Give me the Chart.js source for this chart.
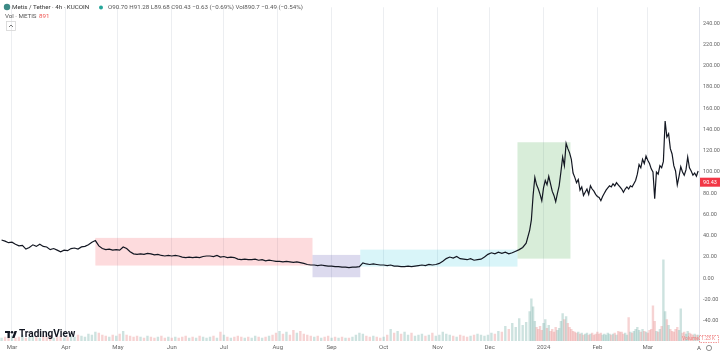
<!DOCTYPE html>
<html>
<head>
<meta charset="utf-8">
<script src="https://cdn.jsdelivr.net/npm/chart.js@4.4.0/dist/chart.umd.min.js"></script>
<style>
html, body { margin: 0; padding: 0; background: #fff; }
canvas { display: block; }
</style>
</head>
<body>
<canvas id="chart" width="720" height="354"></canvas>
<script>
// time axis in days, day 0 = 1 Mar 2023
const monthDays = [0, 31, 61, 92, 122, 153, 184, 214, 245, 275, 306, 337, 366];
const monthLabels = ['Mar', 'Apr', 'May', 'Jun', 'Jul', 'Aug', 'Sep', 'Oct', 'Nov', 'Dec', '2024', 'Feb', 'Mar'];
const priceTicks = [-40, -20, 0, 20, 40, 60, 80, 100, 120, 140, 160, 180, 200, 220, 240];

// first stretch: one reading every 2 days from day -6
const start1 = -6, step1 = 2;
const prices1 = [
    36, 35, 33.5, 34, 32, 30.5, 31, 27.5, 29, 31.5,
    30, 32, 30, 29.5, 27, 28, 26.5, 25, 26.5, 26,
    28, 28.5, 27.5, 29.5, 30, 31.5, 34, 35.5, 30.5, 28,
    27, 27.5, 26.5, 27, 26.5, 29.5, 28, 25, 23, 22.5,
    23, 22.5, 23.5, 23, 22, 22.5, 21.5, 21, 21.5, 21,
    21.5, 21, 20, 19.5, 20, 19.5, 20, 19.5, 20.5, 21,
    21, 20.5, 21.5, 20, 20.5, 19.5, 20, 19.5, 18, 17.5,
    18, 17.5, 17.5, 18, 17, 17.5, 16.5, 17, 16.5, 16,
    16, 15.5, 16, 15.5, 15, 15.5, 14.8, 14, 13, 12.5,
    12.5, 12, 12.5, 12, 11.5, 11.5, 11, 11, 10.5, 10.5,
    10, 10.5, 10.5, 11, 14.5, 13.5, 13, 13.5, 13, 12.5,
    12.5, 12, 12.5, 11.5, 11.5, 11, 11, 11.5, 11, 11.5,
    12, 12.5, 12, 13, 12.5, 13, 14, 16, 18.5, 20,
    19, 20.5, 18.5, 18, 17.5, 18.5, 17, 17.5, 18, 20,
    22.5, 24, 23, 24.5, 23.5, 24.5, 23, 24, 25.5, 27,
    29, 33, 45
];
const volume1 = [
    3, 4, 3, 5, 3, 4, 6, 3, 4, 5,
    4, 3, 5, 4, 6, 3, 4, 5, 3, 4,
    5, 4, 6, 5, 4, 7, 6, 9, 8, 6,
    5, 4, 6, 5, 7, 10, 6, 5, 4, 5,
    4, 3, 5, 4, 3, 4, 5, 3, 4, 3,
    4, 3, 4, 5, 3, 4, 3, 5, 4, 3,
    4, 5, 3, 9, 6, 4, 3, 4, 5, 4,
    3, 4, 3, 5, 4, 3, 4, 5, 6, 8,
    10, 7, 9, 6, 11, 8, 10, 7, 6, 5,
    4, 5, 3, 4, 5, 3, 4, 3, 4, 3,
    3, 4, 6, 8, 7, 5, 4, 5, 4, 3,
    4, 6, 12, 8, 10, 7, 9, 6, 8, 5,
    6, 7, 5, 6, 8, 5, 6, 9, 7, 6,
    5, 4, 6, 5, 4, 5, 6, 7, 6, 5,
    6, 8, 7, 10, 9, 15, 12, 18, 14, 23,
    16, 19, 30
];

// second stretch: daily readings from day 299
const start2 = 299, step2 = 1;
const prices2 = [
    55, 78, 95, 88, 84, 79, 73, 85, 92, 88,
    96, 89, 82, 78, 72, 80, 87, 100, 114, 106,
    127, 122, 118, 112, 99, 95, 90, 93, 83, 86,
    78, 81, 84, 79, 87, 84, 82, 79, 77, 76,
    73, 77, 80, 83, 85, 87, 86, 89, 87, 90,
    88, 86, 84, 81, 84, 86, 84, 87, 86, 89,
    92, 98, 107, 104, 112, 108, 115, 111, 108, 103,
    100, 75, 100, 98, 106, 104, 110, 148, 133, 136,
    122, 117, 106, 101, 88, 96, 105, 100, 97, 102,
    114, 104, 101, 97, 99, 96, 101
];
const volume2 = [
    43, 35, 20, 14, 12, 15, 11, 18, 22, 13,
    16, 10, 12, 9, 14, 11, 13, 20, 28, 22,
    25, 18, 14, 12, 10, 9, 8, 9, 7, 8,
    6, 7, 8, 6, 7, 8, 6, 7, 9, 7,
    8, 6, 7, 6, 8, 7, 6, 7, 8, 6,
    10, 9, 9, 7, 8, 6, 24, 9, 8, 10,
    12, 14, 11, 9, 12, 10, 9, 8, 11, 12,
    36, 20, 10, 9, 12, 15, 83, 30, 22, 16,
    12, 10, 9, 12, 14, 11, 33, 8, 9, 7,
    10, 8, 7, 6, 7, 6, 6
];

// shaded zones: [fromDay, toDay, low, high]
const zones = [
    [48, 173, 12, 38],
    [173, 200.5, 1, 22],
    [200.5, 291, 11, 27],
    [291, 321.5, 18.5, 128]
];
const zoneColors = ['rgba(242,54,69,0.18)', 'rgba(80,70,170,0.2)', 'rgba(0,188,212,0.15)', 'rgba(76,175,80,0.22)'];
const lastClose = 90.43;

const days = prices1.map((_, i) => start1 + i * step1).concat(prices2.map((_, i) => start2 + i * step2));
const prices = prices1.concat(prices2);
const volumes = volume1.concat(volume2);

const pricePoints = days.map((d, i) => ({ x: d, y: prices[i] }));
const volumePoints = days.map((d, i) => ({ x: d, y: volumes[i] }));
const volumeColors = prices.map((p, i) => (i > 0 && p < prices[i - 1]) ? 'rgba(225,110,110,0.3)' : 'rgba(90,160,150,0.3)');

const FONT = 'Roboto, "Noto Sans", sans-serif';

const overlay = {
    id: 'overlay',
    beforeDatasetsDraw(chart) {
        const { ctx, scales: { x, y } } = chart;
        ctx.save();
        zones.forEach((z, i) => {
            const x0 = x.getPixelForValue(z[0]), x1 = x.getPixelForValue(z[1]);
            const y0 = y.getPixelForValue(z[3]), y1 = y.getPixelForValue(z[2]);
            ctx.fillStyle = zoneColors[i];
            ctx.fillRect(x0, y0, x1 - x0, y1 - y0);
        });
        ctx.restore();
    },
    afterDraw(chart) {
        const { ctx, scales: { y }, chartArea } = chart;
        ctx.save();
        ctx.textBaseline = 'middle';

        // legend header
        ctx.fillStyle = '#3d8a86';
        ctx.beginPath();
        ctx.arc(7, 7, 3.2, 0, Math.PI * 2);
        ctx.fill();
        ctx.font = '6.2px ' + FONT;
        ctx.fillStyle = '#333';
        ctx.fillText('Metis / Tether · 4h · KUCOIN', 12, 7.5);
        ctx.fillStyle = '#26a69a';
        ctx.beginPath();
        ctx.arc(101, 7.5, 2, 0, Math.PI * 2);
        ctx.fill();
        ctx.fillStyle = '#555';
        ctx.fillText('O90.70 H91.28 L89.68 C90.43 −0.63 (−0.69%) Vol890.7 −0.49 (−0.54%)', 108, 7.5);
        ctx.fillText('Vol · METIS', 5, 16.5);
        ctx.fillStyle = '#ef5350';
        ctx.fillText('891', 39, 16.5);

        // collapse button
        ctx.strokeStyle = '#d5d5d5';
        ctx.lineWidth = 0.8;
        ctx.strokeRect(6.5, 21.5, 9, 9);
        ctx.strokeStyle = '#555';
        ctx.beginPath();
        ctx.moveTo(9, 27);
        ctx.lineTo(11, 25);
        ctx.lineTo(13, 27);
        ctx.stroke();

        // TradingView watermark
        ctx.fillStyle = '#131722';
        ctx.fillRect(5, 331, 5, 2);
        ctx.fillRect(7.5, 331, 2.3, 7);
        ctx.beginPath();
        ctx.arc(12, 332.2, 1.3, 0, Math.PI * 2);
        ctx.fill();
        ctx.beginPath();
        ctx.moveTo(14.5, 331);
        ctx.lineTo(17, 331);
        ctx.lineTo(14.5, 338);
        ctx.lineTo(12, 338);
        ctx.closePath();
        ctx.fill();
        ctx.font = 'bold 10px ' + FONT;
        ctx.fillText('TradingView', 19, 334.5);

        // last price tag
        const py = y.getPixelForValue(lastClose);
        ctx.fillStyle = '#f23645';
        ctx.fillRect(chartArea.right + 1, py - 4.5, 20, 9);
        ctx.fillStyle = '#fff';
        ctx.font = '5.5px ' + FONT;
        ctx.textAlign = 'center';
        ctx.fillText(lastClose.toFixed(2), chartArea.right + 11, py);

        // volume legend bottom right
        ctx.textAlign = 'left';
        ctx.fillStyle = '#f08080';
        ctx.font = '5px ' + FONT;
        ctx.fillText('Volume', 682, 339);
        ctx.setLineDash([1.5, 1]);
        ctx.strokeStyle = '#f08080';
        ctx.strokeRect(699.5, 335.5, 19, 7);
        ctx.setLineDash([]);
        ctx.fillText('1.23 K', 701, 339);

        // corner controls
        ctx.fillStyle = '#555';
        ctx.font = '6px ' + FONT;
        ctx.fillText('A', 697, 348);
        ctx.strokeStyle = '#777';
        ctx.beginPath();
        ctx.arc(709, 348, 2.6, 0, Math.PI * 2);
        ctx.stroke();
        ctx.restore();
    }
};

new Chart(document.getElementById('chart'), {
    data: {
        datasets: [
            {
                type: 'line',
                data: pricePoints,
                yAxisID: 'y',
                borderColor: '#131722',
                borderWidth: 1.2,
                pointRadius: 0,
                tension: 0,
                order: 1
            },
            {
                type: 'bar',
                data: volumePoints,
                yAxisID: 'yv',
                backgroundColor: volumeColors,
                barPercentage: 1,
                categoryPercentage: 1,
                order: 2
            }
        ]
    },
    options: {
        responsive: false,
        animation: false,
        layout: { padding: 0 },
        plugins: {
            legend: { display: false },
            tooltip: { enabled: false }
        },
        scales: {
            x: {
                type: 'linear',
                offset: false,
                min: -6.9,
                max: 395.5,
                afterBuildTicks: s => { s.ticks = monthDays.map(v => ({ value: v })); },
                afterFit: s => { s.height = 13; },
                grid: { color: '#eceef1', drawTicks: false, offset: false },
                border: { display: false },
                ticks: {
                    autoSkip: false,
                    maxRotation: 0,
                    padding: 3,
                    color: '#666',
                    font: { size: 6, family: FONT },
                    callback: v => monthLabels[monthDays.indexOf(v)]
                }
            },
            y: {
                position: 'right',
                min: -59,
                max: 255,
                afterBuildTicks: s => { s.ticks = priceTicks.map(v => ({ value: v })); },
                afterFit: s => { s.width = 21; },
                grid: { display: false, drawTicks: false },
                border: { display: true, color: '#e0e3eb' },
                ticks: {
                    padding: 4,
                    color: '#666',
                    font: { size: 5.5, family: FONT },
                    callback: v => v.toFixed(2)
                }
            },
            yv: {
                display: false,
                min: 0,
                max: 341
            }
        }
    },
    plugins: [overlay]
});
</script>
</body>
</html>
